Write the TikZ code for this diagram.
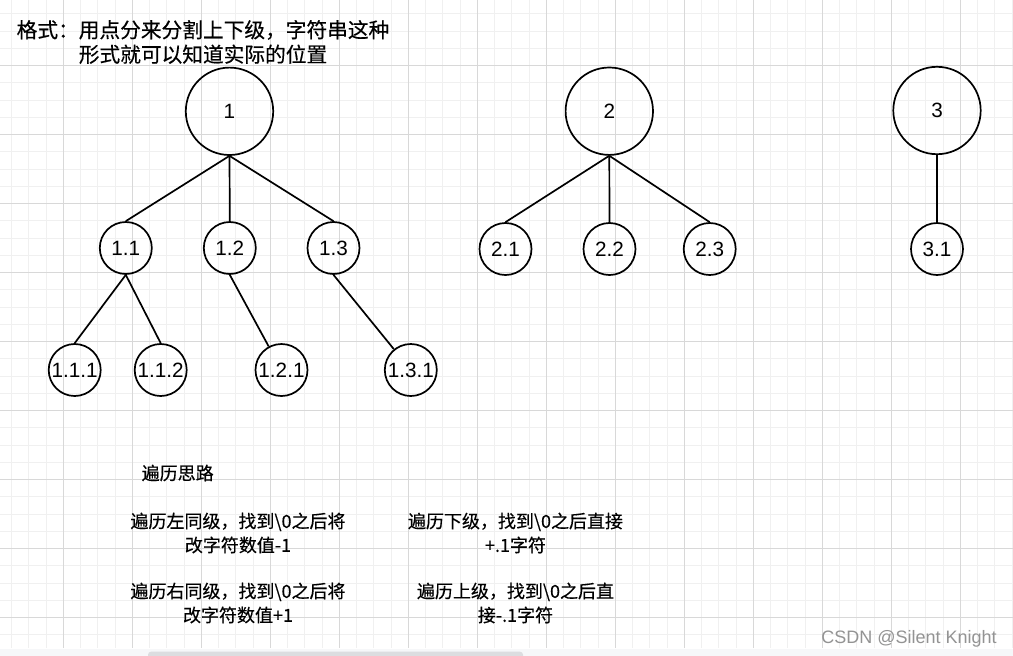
\documentclass[tikz,border=0pt]{standalone}
\usepackage{fontspec}
\setmainfont{Liberation Sans}
\newfontfamily\cjk[FakeBold=0.4]{Noto Sans CJK SC}
\definecolor{gridminor}{HTML}{F0F0F0}
\definecolor{gridmajor}{HTML}{D8D8D8}
\definecolor{barbg}{HTML}{F6F7F9}
\definecolor{scrollc}{HTML}{DCDDE0}
\definecolor{wmark}{HTML}{939393}
\begin{document}
\begin{tikzpicture}[x=1pt,y=-1pt,
  bigc/.style={circle,draw=black,line width=1.7pt,minimum size=87.4pt,inner sep=0pt,font=\fontsize{20.7}{24}\selectfont},
  smallc/.style={circle,draw=black,line width=1.7pt,minimum size=52pt,inner sep=0pt,font=\fontsize{20.7}{24}\selectfont},
  edge/.style={line width=1.7pt,draw=black},
  toptext/.style={align=center,font=\cjk\fontsize{20.7}{24.5}\selectfont,inner sep=0pt},
  bodytext/.style={align=center,font=\cjk\fontsize{18}{24}\selectfont,inner sep=0pt}]
\useasboundingbox (0,0) rectangle (1013,656);
\fill[white] (0,0) rectangle (1013,656);
% grid
\foreach \i in {0,...,58} {
  \pgfmathsetmacro{\xx}{11.55+17.25*\i}
  \draw[gridminor,line width=1pt] (\xx,0) -- (\xx,648);
}
\foreach \i in {0,...,37} {
  \pgfmathsetmacro{\yy}{13.95+17.25*\i}
  \draw[gridminor,line width=1pt] (0,\yy) -- (1013,\yy);
}
\foreach \i in {0,...,14} {
  \pgfmathsetmacro{\xx}{63.3+69*\i}
  \draw[gridmajor,line width=1pt] (\xx,0) -- (\xx,648);
}
\foreach \i in {0,...,8} {
  \pgfmathsetmacro{\yy}{65.7+69*\i}
  \draw[gridmajor,line width=1pt] (0,\yy) -- (1013,\yy);
}
% bottom bar
\fill[barbg] (0,648.5) rectangle (1013,660);
\fill[scrollc,rounded corners=3pt] (148,662) -- (148,651.7) -- (523,651.7) -- (523,662) -- cycle;

% title text
\node[toptext] (title) at (203,42) {格式：用点分来分割上下级，字符串这种\\形式就可以知道实际的位置};

% tree 1
\node[bigc] (n1) at (229.5,111.3) {1};
\node[smallc] (n11) at (125.8,248) {1.1};
\node[smallc] (n12) at (229.8,248) {1.2};
\node[smallc] (n13) at (333.5,248) {1.3};
\node[smallc] (n111) at (74.7,370) {1.1.1};
\node[smallc] (n112) at (160.7,370) {1.1.2};
\node[smallc] (n121) at (281.5,370) {1.2.1};
\node[smallc] (n131) at (410.8,370) {1.3.1};
% tree 2
\node[bigc] (n2) at (609.3,111.2) {2};
\node[smallc] (n21) at (505.5,249) {2.1};
\node[smallc] (n22) at (609.5,249) {2.2};
\node[smallc] (n23) at (709.7,249) {2.3};
% tree 3
\node[bigc] (n3) at (937,110.5) {3};
\node[smallc] (n31) at (937,249) {3.1};

% connectors
\draw[edge] (n1.south) -- (n11.north);
\draw[edge] (n1.south) -- (n12.north);
\draw[edge] (n1.south) -- (n13.north);
\draw[edge] (n11.south) -- (n111.north);
\draw[edge] (n11.south) -- (n112.north);
\draw[edge] (n12.south) -- (n121);
\draw[edge] (n13.south) -- (n131);
\draw[edge] (n2.south) -- (n21.north);
\draw[edge] (n2.south) -- (n22.north);
\draw[edge] (n2.south) -- (n23.north);
\draw[edge] (n3.south) -- (n31.north);

% traversal notes
\node[bodytext,anchor=west] (idea) at (141.5,473) {遍历思路};
\node[bodytext] (left) at (238,533) {遍历左同级，找到\textbackslash 0之后将\\改字符数值-1};
\node[bodytext] (right) at (238,603) {遍历右同级，找到\textbackslash 0之后将\\改字符数值+1};
\node[bodytext] (down) at (515.5,533) {遍历下级，找到\textbackslash 0之后直接\\+.1字符};
\node[bodytext] (up) at (515.5,603) {遍历上级，找到\textbackslash 0之后直\\接-.1字符};

% watermark
\node[anchor=base,text=wmark,font=\fontsize{18}{20}\selectfont,inner sep=0pt] (wm) at (909,643.3) {CSDN @Silent Knight};
\end{tikzpicture}
\end{document}
